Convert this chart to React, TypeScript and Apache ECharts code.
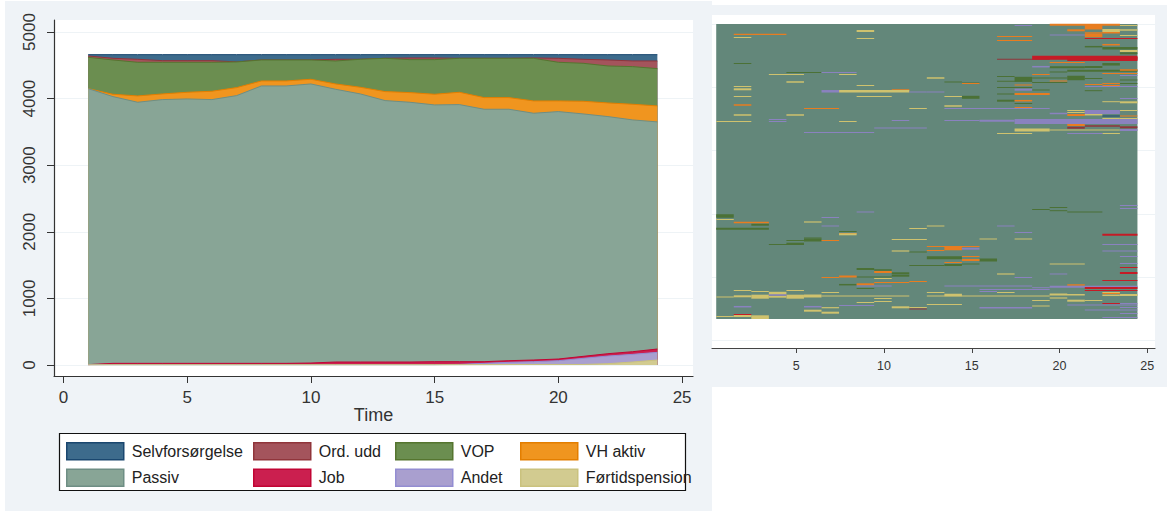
import React, { useEffect, useRef } from "react";
import * as echarts from "echarts";

const FONT = "Liberation Sans";
const times = Array.from({ length: 24 }, (_, i) => i + 1);
const yTicks = [0, 1000, 2000, 3000, 4000, 5000];
const xTicksLeft = [0, 5, 10, 15, 20, 25];
const xTicksRight = [5, 10, 15, 20, 25];

// Distribution plot: number of people in each state at each time (bottom to top)
const fortid = [3,4,4,4,4,4,4,4,4,4,4,4,4,4,4,5,6,7,8,8,8,20,45,75];
const andet = [2,2,2,2,2,2,2,2,2,2,2,2,2,2,2,5,19,33,42,57,92,115,115,115];
const job = [1,19,19,19,19,19,19,19,19,24,39,39,39,39,44,40,25,25,25,25,30,35,40,50];
const passiv = [4144,4005,3920,3960,3970,3960,4020,4165,4165,4190,4095,4025,3925,3900,3855,3860,3790,3775,3705,3715,3640,3560,3480,3410];
const vhAktiv = [0,35,95,85,100,125,120,75,75,70,80,100,135,145,160,185,175,175,185,160,190,205,235,240];
const vop = [470,515,505,475,450,435,385,315,315,290,345,420,500,495,520,510,590,590,640,580,570,555,565,560];
const ordUdd = [20,25,45,25,25,25,0,0,0,0,25,0,0,25,25,0,0,0,5,60,60,90,85,115];
const selv = [20,55,70,90,90,90,110,80,80,80,70,70,55,50,50,55,55,55,50,55,70,80,95,95];

// Index plot: runs [first time, last time, row from the top, rows in the run]
const passivRuns = [[1,24,147.5,295]];
const selvRuns = [[23,23,92,1]];
const ordRuns = [[21,21,103.7,2],[22,23,102,1.5],[24,24,103.3,2],[12,12,285,1],[17,19,35.3,1]];
const vopRuns = [
  [2,2,39.5,1],[5,6,48.5,1],[18,18,55.3,5],[17,18,57.3,1],[17,17,52.5,1],[17,18,63.5,1],[19,19,54,1],[19,20,58.5,1],[20,20,54,1],
  [21,21,54,4.5],[22,22,54.5,1],[22,22,22.7,1.5],[23,24,24.3,2.5],[24,24,29.3,2],[23,23,40.3,2.5],[20,21,43.3,2],[22,22,43,2],
  [21,24,46.7,2],[20,20,48,1],[24,24,56,1],[24,24,59.5,1],[14,14,58,1],[15,15,59,1],[15,15,73.3,3],[17,17,70,1],[17,17,76.7,2],
  [19,19,66,1],[22,22,66.7,1],[18,18,79.5,1],
  [1,1,192,3.5],[3,3,200.7,2],[1,3,204.7,2],[4,5,220.5,1],[5,5,219.7,2],[5,6,216.5,1],[6,6,216,3],[6,6,214,1],[8,8,207.5,1],
  [12,12,228,1],[13,14,233.7,3],[12,13,241.5,1],[14,14,241,2],[15,15,240,1],[16,16,236,3],[9,9,245,2],[10,10,246,1.5],[9,10,253,1],
  [11,11,249.3,2],[11,11,251.7,2],[8,8,260.7,1.5],[9,9,264.5,1],[23,23,264.5,1],
  [19,19,185.5,1],[20,20,183.5,1],[20,20,186.7,1],[21,22,188,1],
];
const vhRuns = [
  [2,4,10.3,1.3],[2,2,81,1.5],[6,7,84.5,1],[11,11,66,1.5],[20,23,0.7,2],[22,22,3,5],[21,21,6.3,2],[22,22,9,1.5],[22,22,11.5,3.5],[23,23,8.5,2],
  [17,18,12.5,1],[17,18,16.5,1],[23,23,20.7,1.5],[24,24,46,1.5],[20,21,38.5,1],[23,24,49.5,1],[19,19,50.5,1],[20,20,57,1],[18,18,61,1],[22,22,60.5,1],
  [23,23,59.5,1],[23,23,61.5,1],[15,15,59.5,1],[18,19,70,2],[18,18,76.7,1.5],[18,18,83.5,1],[21,21,91,2],[24,24,92,1],[21,21,101,2],
  [2,3,198.5,1.5],[7,7,216.5,1],[8,8,209.5,1],[13,15,222.5,1],[14,14,224.3,4],[13,13,226.5,1],[15,15,232.5,1],[15,15,236,2],[14,14,238.5,1],
  [8,8,252.5,2],[7,7,253.5,1],[10,10,248,2],[10,11,258.5,1],[12,12,257.5,1],[9,9,260.3,2],[21,21,261,1.5],[23,23,269.5,1],
];
const jobRuns = [
  [22,24,14.5,1],[19,24,33.7,4],[21,24,35,4],[2,2,290.5,1],[23,24,210.7,2],[24,24,243.5,1],[24,24,249,2],[23,24,256.5,1],[22,24,264,2],[22,24,266.5,1],[23,23,279.5,1],
];
const andetRuns = [
  [18,18,1.5,1],[20,21,11,1],[19,19,42.7,1.5],[22,22,35,1],[24,24,51.5,1],[22,24,62.5,1],[18,18,65.7,2],[24,24,74.5,1],[13,13,68,1],[7,7,67.3,2.5],[12,12,68,1],
  [4,4,95.5,1],[4,4,97.5,1],[6,9,108.5,1],[10,12,104,1.2],[7,8,48.5,1],[14,19,84.5,1],[14,15,96.5,1],[16,17,96.8,2],[18,24,97.5,5],[20,20,89.5,1.5],[22,23,88,4],
  [21,22,109.5,1],[24,24,106,2],[11,11,96.5,1],
  [9,9,188,1],[7,7,193.5,1],[7,7,202,1],[9,10,262,1.2],[2,2,282.7,1.5],[6,6,282.7,1.5],[8,9,281.5,1],[4,4,271,1.5],
  [17,17,202,1],[18,18,208.5,1],[24,24,181.5,1],[24,24,184.5,1],[23,24,220.5,1],[23,24,227,1],[24,24,232.5,1],[24,24,239.5,1],[15,15,224.7,2],[20,20,250,1],[18,18,253.5,1],
  [14,18,262,1],[19,19,263.7,1],[20,24,262.7,2],[16,19,265.5,1],[16,16,267.5,1],[24,24,279.5,1],[21,24,281,1],[16,18,283.7,1.5],[22,24,286,1],[24,24,283.5,1],[24,24,289.5,1],[23,24,293.5,1],
];
const fortidRuns = [
  [2,2,13.5,1],[9,9,7,2],[9,9,14.5,1],[4,5,50.5,1],[8,8,50.5,1],[5,5,58,1.5],[13,13,54,1.5],[9,9,61.5,1],[2,2,62.5,1],[2,2,65.3,2],[8,11,67.3,2.5],[2,2,72.5,1],[9,10,72.5,1],
  [12,12,84.5,1],[2,2,91,1.5],[5,5,91,1.5],[1,2,97.5,1],[8,8,97.5,1],[14,14,72.5,1],[14,14,82,1.5],
  [24,24,1.5,1],[23,23,6.5,3],[24,24,6,1.5],[24,24,11.5,1],[24,24,27,2],[23,23,77.7,1],[24,24,78.3,2],[21,21,86.5,1],[21,21,88.5,1],[22,22,87.5,1.5],[22,22,90.7,1.5],[23,23,94.5,1],[24,24,86.5,1],[24,24,94.5,1],
  [19,19,99.5,1],[18,19,106,3],[20,23,106,1],[17,18,109.5,1],[23,23,109.5,1],
  [1,1,195.5,1],[6,6,198,1.2],[8,8,210.3,2],[12,12,204.5,1],[11,12,215.5,1],[11,11,227,1.2],[13,13,202,1],[10,10,254.5,1],
  [2,2,266.5,1],[3,3,267.5,1],[5,5,266.5,1],[7,7,268.5,1],[13,13,268.5,1],[1,1,273,1],[2,2,272.3,2],[3,3,272.7,4],[4,4,269.3,3],[4,4,272.7,2],[5,5,272.7,4],[6,6,272,3],[7,11,272,1.2],
  [10,10,274.5,1],[13,19,272,1.2],[14,14,271,2.5],[20,21,270.7,1.5],[23,23,271.3,1.5],[24,24,271,2],[10,10,277.5,1],[9,9,278.5,1],[13,14,280.5,1],[6,6,286.7,2],[7,7,283.7,1.2],[7,7,288.7,2],
  [11,11,283.3,2],[12,12,283.5,1],[1,1,292.5,1],[2,2,292,2],[3,3,292.3,2],[3,3,294,2],[16,16,215,1],[18,18,215,1],[17,17,250,1.2],[20,21,240,1],[17,17,268.5,1],[23,23,268.5,1],
  [19,19,276.5,1],[20,20,274,1.2],[21,21,276.7,2],[22,22,276.5,1],[19,19,282,1],[20,20,270,1],
];

const names = ["Førtidspension", "Andet", "Job", "Passiv", "VH aktiv", "VOP", "Ord. udd", "Selvforsørgelse"];
const values = [fortid, andet, job, passiv, vhAktiv, vop, ordUdd, selv];
const fills = ["#d2cb90", "#a99fcf", "#cb1f4f", "#88a596", "#f0951f", "#6b8e50", "#a4545c", "#3d6b8c"];
const borders = ["#cac27e", "#938dd2", "#c10534", "#6e8e84", "#e37e00", "#55752f", "#90353b", "#1a476f"];
const runs = [passivRuns, selvRuns, ordRuns, vopRuns, vhRuns, fortidRuns, andetRuns, jobRuns];
const runColors = ["#63877a", "#1a476f", "#90353b", "#4b7136", "#e87d20", "#cfc26e", "#8a82bf", "#c51b26"];

const SEQ_PER_ROW = 15.79;
const seq = (row: number) => 5000 - row * SEQ_PER_ROW;

// Running total of the states up to and including state i, at time index k.
const upTo = (i: number, k: number) => values.slice(0, i + 1).reduce((s, v) => s + v[k], 0);

function legendColumn(a: string, b: string, left: number) {
  const item = (n: string) => {
    const i = names.indexOf(n);
    return { name: n, icon: "rect", itemStyle: { color: fills[i], borderColor: borders[i], borderWidth: 1.5 } };
  };
  return {
    left, top: 442, orient: "vertical", itemWidth: 57, itemHeight: 17, itemGap: 8, padding: 0, selectedMode: false,
    data: [item(a), item(b)],
    textStyle: { fontFamily: FONT, fontSize: 16, color: "#222", padding: [0, 0, 0, 3] },
  };
}

export default function App() {
  const ref = useRef<HTMLDivElement>(null);
  useEffect(() => {
    const chart = echarts.init(ref.current!, undefined, { renderer: "svg" });
    // Top state first: each later area is painted over the part of the earlier one below it.
    const areas = names.map((name, i) => ({
      name, type: "line", xAxisIndex: 0, yAxisIndex: 0, symbol: "none", silent: true,
      data: times.map((t, k) => [t, upTo(i, k)]),
      lineStyle: { color: borders[i], width: 1 },
      itemStyle: { color: fills[i] },
      areaStyle: { color: fills[i], opacity: 1 },
      z: 3 + names.length - i,
    })).reverse();
    const index = runs.map((data, i) => ({
      name: "Index " + i, type: "custom", xAxisIndex: 1, yAxisIndex: 1, silent: true, clip: true, z: 3 + i,
      encode: { x: [0, 1], y: 2 }, data,
      renderItem: (_: any, api: any) => {
        const a = api.coord([api.value(0) - 0.56, seq(api.value(2) - api.value(3) / 2)]);
        const b = api.coord([api.value(1) + 0.44, seq(api.value(2) + api.value(3) / 2)]);
        return { type: "rect", shape: { x: a[0], y: a[1], width: b[0] - a[0], height: b[1] - a[1] }, style: { fill: runColors[i] } };
      },
    }));
    chart.setOption({
      animation: false,
      backgroundColor: "#ffffff",
      graphic: [
        { type: "rect", z: -10, shape: { x: 5, y: 1, width: 707, height: 510 }, style: { fill: "#eff3f7" } },
        { type: "rect", z: -10, shape: { x: 712, y: 5, width: 455, height: 382 }, style: { fill: "#eff3f7" } },
        { type: "rect", z: 1, shape: { x: 59.5, y: 433.5, width: 626, height: 57 }, style: { fill: "#ffffff", stroke: "#111", lineWidth: 1.2 } },
      ],
      legend: [
        legendColumn("Selvforsørgelse", "Passiv", 66),
        legendColumn("Ord. udd", "Job", 253),
        legendColumn("VOP", "Andet", 395),
        legendColumn("VH aktiv", "Førtidspension", 520),
      ],
      grid: [
        { left: 54, top: 20, width: 639, height: 356, show: true, backgroundColor: "#fff", borderWidth: 0 },
        { left: 712, top: 15, width: 443, height: 333, show: true, backgroundColor: "#fff", borderWidth: 0 },
      ],
      xAxis: [
        {
          gridIndex: 0, type: "value", min: -0.38, max: 25.44, splitLine: { show: false },
          axisLine: { onZero: false, lineStyle: { color: "#333", width: 1.2 } },
          axisTick: { customValues: xTicksLeft, length: 7, lineStyle: { color: "#333" } },
          axisLabel: { customValues: xTicksLeft, fontFamily: FONT, fontSize: 17, color: "#333", margin: 13 },
          name: "Time", nameLocation: "middle", nameGap: 30, nameMoveOverlap: false,
          nameTextStyle: { fontFamily: FONT, fontSize: 18, color: "#333" },
        },
        {
          gridIndex: 1, type: "value", min: 0.2, max: 25.44, splitLine: { show: false },
          axisLine: { onZero: false, lineStyle: { color: "#444", width: 1.2 } },
          axisTick: { customValues: xTicksRight, length: 5, lineStyle: { color: "#444" } },
          axisLabel: { customValues: xTicksRight, fontFamily: FONT, fontSize: 12.5, color: "#333", margin: 11, hideOverlap: false },
        },
      ],
      yAxis: [
        {
          gridIndex: 0, type: "value", min: -165, max: 5180,
          axisLine: { show: true, onZero: false, lineStyle: { color: "#333", width: 1.2 } },
          axisTick: { show: true, customValues: yTicks, length: 7, lineStyle: { color: "#333" } },
          axisLabel: { customValues: yTicks, formatter: (v: number) => String(v), rotate: 90, fontFamily: FONT, fontSize: 17, color: "#333", margin: 16, align: "center", verticalAlign: "bottom" },
          splitLine: { show: true, lineStyle: { color: "#eef3f6", width: 1 } },
        },
        {
          gridIndex: 1, type: "value", min: -116, max: 5142,
          axisLine: { show: false }, axisLabel: { show: false },
          axisTick: { show: false, customValues: yTicks },
          splitLine: { show: true, lineStyle: { color: "#eef3f6", width: 1 } },
        },
      ],
      series: [...areas, ...index],
    });
    return () => chart.dispose();
  }, []);
  return <div ref={ref} style={{ position: "fixed", left: 0, top: 0, width: 1167, height: 511 }} />;
}
